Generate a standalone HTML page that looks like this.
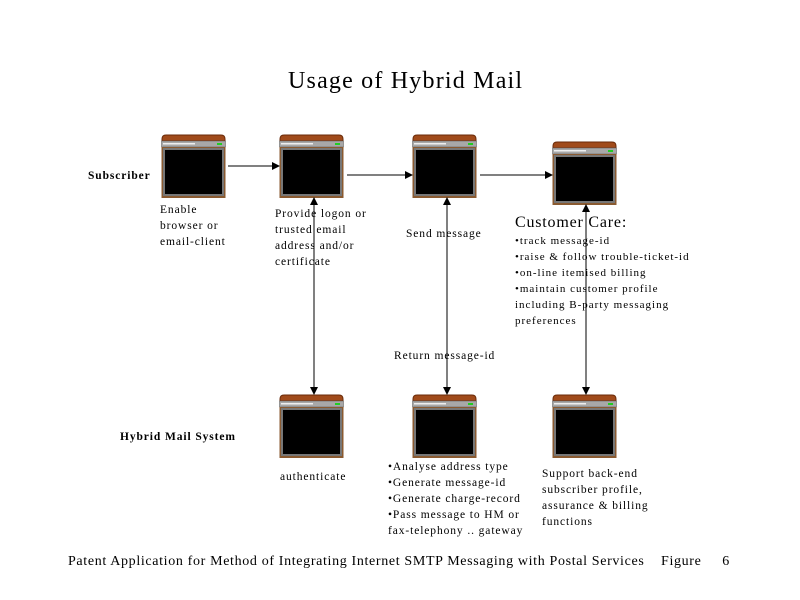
<!DOCTYPE html>
<html><head><style>
body{margin:0;background:#fff;}
.t{position:absolute;font-family:"Liberation Serif",serif;font-size:11.5px;line-height:16px;color:#000;white-space:nowrap;letter-spacing:0.9px}
</style></head><body>
<div style="position:relative;width:800px;height:600px;overflow:hidden">
<svg width="800" height="600" style="position:absolute;left:0;top:0">
<defs>
<g id="b">
<path d="M1 5 Q1 1 5 1 L60 1 Q64 1 64 5 L64 7 L1 7 Z" fill="#a04a1a" stroke="#6a2a08" stroke-width="1"/>
<rect x="0.5" y="7" width="64" height="6" fill="#a8a8a8" stroke="#555" stroke-width="0.5"/>
<rect x="2" y="9" width="32" height="1.5" fill="#eee"/>
<rect x="56" y="9" width="5" height="2" fill="#2c2"/>
<rect x="0.5" y="13" width="64" height="51" fill="#8a5a30"/>
<rect x="2" y="14" width="61" height="48" fill="#777"/>
<rect x="4" y="16" width="57" height="44" fill="#000"/>
</g>
<marker id="a" markerWidth="8" markerHeight="8" refX="7" refY="4" orient="auto" markerUnits="userSpaceOnUse"><path d="M0 0 L8 4 L0 8 Z" fill="#000"/></marker>
</defs>
<use href="#b" x="161" y="134"/>
<use href="#b" x="279" y="134"/>
<use href="#b" x="412" y="134"/>
<use href="#b" x="552" y="141"/>
<use href="#b" x="279" y="394"/>
<use href="#b" x="412" y="394"/>
<use href="#b" x="552" y="394"/>
<g stroke="#000" stroke-width="1" fill="none">
<line x1="228" y1="166" x2="279" y2="166" marker-end="url(#a)"/>
<line x1="347" y1="175" x2="412" y2="175" marker-end="url(#a)"/>
<line x1="480" y1="175" x2="552" y2="175" marker-end="url(#a)"/>
<line x1="314" y1="300" x2="314" y2="198" marker-end="url(#a)"/>
<line x1="314" y1="300" x2="314" y2="394" marker-end="url(#a)"/>
<line x1="447" y1="300" x2="447" y2="198" marker-end="url(#a)"/>
<line x1="447" y1="300" x2="447" y2="394" marker-end="url(#a)"/>
<line x1="586" y1="300" x2="586" y2="205" marker-end="url(#a)"/>
<line x1="586" y1="300" x2="586" y2="394" marker-end="url(#a)"/>
</g>
</svg>
<div class="t" style="left:288px;top:66px;font-size:24px;line-height:30px;letter-spacing:1.2px">Usage of Hybrid Mail</div>
<div class="t" style="left:88px;top:168px;font-weight:bold">Subscriber</div>
<div class="t" style="left:120px;top:429px;font-weight:bold">Hybrid Mail System</div>
<div class="t" style="left:160px;top:202px">Enable<br>browser or<br>email-client</div>
<div class="t" style="left:275px;top:206px">Provide logon or<br>trusted email<br>address and/or<br>certificate</div>
<div class="t" style="left:406px;top:226px">Send message</div>
<div class="t" style="left:515px;top:213px;font-size:16px;line-height:20px;letter-spacing:0.8px">Customer Care:</div>
<div class="t" style="left:515px;top:233px;font-size:11px;line-height:16px;letter-spacing:1px">•track message-id<br>•raise &amp; follow trouble-ticket-id<br>•on-line itemised billing<br>•maintain customer profile<br>including B-party messaging<br>preferences</div>
<div class="t" style="left:394px;top:348px">Return message-id</div>
<div class="t" style="left:280px;top:469px">authenticate</div>
<div class="t" style="left:388px;top:459px">•Analyse address type<br>•Generate message-id<br>•Generate charge-record<br>•Pass message to HM or<br>fax-telephony .. gateway</div>
<div class="t" style="left:542px;top:466px">Support back-end<br>subscriber profile,<br>assurance &amp; billing<br>functions</div>
<div class="t" style="left:68px;top:553px;font-size:14px;line-height:18px;letter-spacing:0.65px">Patent Application for Method of Integrating Internet SMTP Messaging with Postal Services &nbsp;&nbsp;&nbsp;Figure &nbsp;&nbsp;&nbsp;&nbsp;6</div>
</div>
</body></html>
